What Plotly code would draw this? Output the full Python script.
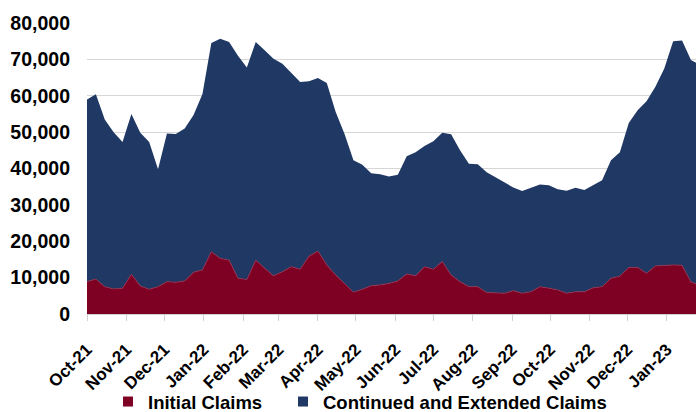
import pandas as pd
import plotly.graph_objects as go

# Weekly claims, week ending dates starting 2 Oct 2021
week_start = "2021-10-02"

initial_claims = [
    8900, 9600, 7500, 6900, 7100, 10900, 7700, 6800, 7500, 8900,
    8700, 9100, 11500, 12100, 17100, 15300, 14800, 9800, 9500, 14800,
    12600, 10500, 11600, 13000, 12300, 15900, 17300, 13500, 10700, 8400,
    6000, 6800, 7800, 8000, 8400, 9100, 11000, 10500, 13000, 12300,
    14400, 10700, 8900, 7500, 7500, 5900, 5900, 5700, 6400, 5700,
    6100, 7500, 7100, 6600, 5700, 6100, 6100, 7200, 7500, 9800,
    10400, 12800, 12800, 11200, 13200, 13400, 13500, 13400, 8800, 8000,
]

continued_extended_claims = [
    50100, 50800, 46000, 43100, 40200, 44100, 42100, 40500, 32300, 40700,
    40800, 41900, 43200, 48400, 57400, 60400, 60000, 61200, 58300, 60000,
    59900, 59700, 57200, 53200, 51500, 48100, 47600, 50000, 44800, 41100,
    36300, 34200, 30900, 30400, 29400, 29200, 32400, 34000, 33200, 35200,
    35400, 38700, 36100, 33800, 33700, 33100, 31700, 30300, 28400, 28100,
    28600, 28100, 28300, 27700, 28200, 28600, 28000, 28200, 29300, 32500,
    34100, 39700, 43200, 47300, 49300, 54100, 61500, 61800, 61000, 60500,
]

month_labels = [
    "Oct-21", "Nov-21", "Dec-21", "Jan-22", "Feb-22", "Mar-22", "Apr-22", "May-22",
    "Jun-22", "Jul-22", "Aug-22", "Sep-22", "Oct-22", "Nov-22", "Dec-22", "Jan-23",
]

y_ticks = [0, 10000, 20000, 30000, 40000, 50000, 60000, 70000, 80000]

RED = "#7E0023"
NAVY = "#1F3864"
FONT = "Liberation Sans"

weeks = pd.date_range(week_start, periods=len(initial_claims), freq="7D")
month_ticks = pd.date_range(week_start, periods=len(month_labels), freq=pd.DateOffset(months=1))

fig = go.Figure()

fig.add_trace(go.Scatter(
    x=weeks, y=initial_claims, name="Initial Claims",
    stackgroup="claims", mode="lines",
    line=dict(color="#9A2A48", width=0.8), fillcolor=RED,
    showlegend=False,
))
fig.add_trace(go.Scatter(
    x=weeks, y=continued_extended_claims, name="Continued and Extended Claims",
    stackgroup="claims", mode="lines",
    line=dict(color=NAVY, width=0), fillcolor=NAVY,
    showlegend=False,
))

# Square swatches, one legend box per series
for name, color, leg in [("Initial Claims", RED, "legend"),
                         ("Continued and Extended Claims", NAVY, "legend2")]:
    fig.add_trace(go.Scatter(
        x=[None], y=[None], mode="markers", name=name, legend=leg,
        marker=dict(symbol="square", size=10, color=color),
    ))

legend_style = dict(
    orientation="h",
    xref="container", yref="container",
    xanchor="left", y=10 / 412, yanchor="middle",
    font=dict(family=FONT, size=18.5, weight="bold", color="black"),
    bgcolor="rgba(0,0,0,0)",
)

fig.update_layout(
    width=696, height=412,
    margin=dict(l=87, r=0, t=23, b=98),
    paper_bgcolor="white", plot_bgcolor="white",
    font=dict(family=FONT, color="black"),
    legend=dict(x=108 / 696, **legend_style),
    legend2=dict(x=283 / 696, **legend_style),
    xaxis=dict(
        type="date",
        range=[weeks[0], pd.Timestamp("2023-01-25")],
        tickvals=month_ticks, ticktext=month_labels,
        tickangle=-45,
        tickfont=dict(family=FONT, size=17, weight="bold", color="black"),
        ticks="outside", ticklen=6, tickcolor="#d0d0d0", tickwidth=1,
        ticklabelstandoff=12,
        showgrid=False, showline=True, linecolor="#d0d0d0", linewidth=1,
        zeroline=False, automargin=False,
    ),
    yaxis=dict(
        range=[0, 80000],
        tickvals=y_ticks,
        tickformat=",",
        tickfont=dict(family=FONT, size=19.5, weight="bold", color="black"),
        showgrid=True, gridcolor="#d6d6d6", gridwidth=1.2,
        zeroline=False, showline=False,
        ticks="", ticklabelstandoff=16, automargin=False,
    ),
)

fig.write_html("out.html")
